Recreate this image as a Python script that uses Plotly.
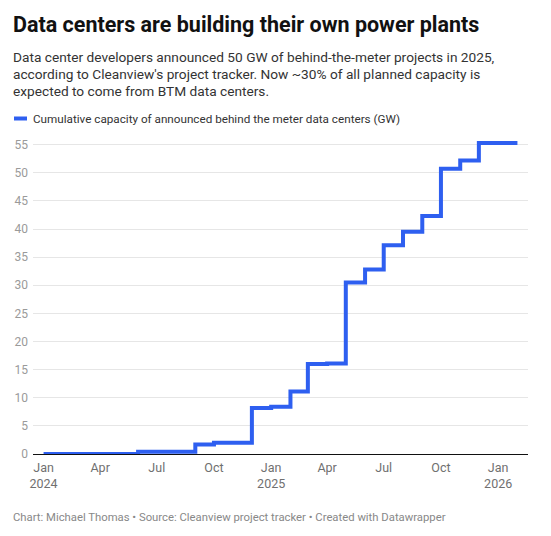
import plotly.graph_objects as go

# monthly cumulative capacity of announced BTM data centers (GW), step-after
months = [
    '2024-01-01', '2024-02-01', '2024-03-01', '2024-04-01', '2024-05-01', '2024-06-01',
    '2024-07-01', '2024-08-01', '2024-09-01', '2024-10-01', '2024-11-01', '2024-12-01',
    '2025-01-01', '2025-02-01', '2025-03-01', '2025-04-01', '2025-05-01', '2025-06-01',
    '2025-07-01', '2025-08-01', '2025-09-01', '2025-10-01', '2025-11-01', '2025-12-01',
    '2026-01-01', '2026-02-01',
]
capacity_gw = [
    0, 0, 0, 0, 0, 0.4,
    0.4, 0.4, 1.7, 2.0, 2.0, 8.2,
    8.4, 11.1, 16.0, 16.1, 30.5, 32.8,
    37.1, 39.5, 42.3, 50.7, 52.2, 55.3,
    55.3, 55.3,
]

x_tick_vals = ['2024-01-01', '2024-04-01', '2024-07-01', '2024-10-01', '2025-01-01',
               '2025-04-01', '2025-07-01', '2025-10-01', '2026-01-01']
x_tick_text = ['Jan<br>2024', 'Apr', 'Jul', 'Oct', 'Jan<br>2025', 'Apr', 'Jul', 'Oct', 'Jan<br>2026']
y_tick_vals = [0, 5, 10, 15, 20, 25, 30, 35, 40, 45, 50, 55]

title = 'Data centers are building their own power plants'
subtitle = [
    'Data center developers announced 50 GW of behind-the-meter projects in 2025,',
    "according to Cleanview's project tracker. Now ~30% of all planned capacity is",
    'expected to come from BTM data centers.',
]
series_name = 'Cumulative capacity of announced behind the meter data centers (GW)'
footer = 'Chart: Michael Thomas \u2022 Source: Cleanview project tracker \u2022 Created with Datawrapper'

BLUE = '#2e5ff0'
# the page body adds an 8px margin, so the figure is shrunk and shifted back by that
OFF = 8
W, H = 551 - OFF, 536 - OFF
ML, MR, MT, MB = 33 - OFF, 23, 139 - OFF, 82
PW, PH = W - ML - MR, H - MT - MB


def px_x(p):
    # p is a pixel position in the reference picture
    return (p - OFF - ML) / PW


def px_y(p):
    return (H - MB - (p - OFF)) / PH


fig = go.Figure()
fig.add_trace(go.Scatter(
    x=months, y=capacity_gw, mode='lines', name=series_name,
    line=dict(shape='hv', width=4, color=BLUE),
    showlegend=False, hoverinfo='x+y',
))

notes = [
    dict(text='<b>' + title + '</b>', x=px_x(11), y=px_y(24.5),
         font=dict(size=21.5, color='#111111')),
    dict(text=subtitle[0], x=px_x(11), y=px_y(56.5), font=dict(size=13.7, color='#333333')),
    dict(text=subtitle[1], x=px_x(11), y=px_y(73.5), font=dict(size=13.7, color='#333333')),
    dict(text=subtitle[2], x=px_x(11), y=px_y(90.5), font=dict(size=13.7, color='#333333')),
    dict(text=series_name, x=px_x(31), y=px_y(118.5), font=dict(size=11.7, color='#333333')),
    dict(text=footer, x=px_x(11), y=px_y(517), font=dict(size=11.3, color='#888888')),
]
for n in notes:
    fig.add_annotation(xref='paper', yref='paper', xanchor='left', yanchor='middle',
                       showarrow=False, **n)

# legend swatch
fig.add_shape(type='line', xref='paper', yref='paper',
              x0=px_x(14), x1=px_x(27), y0=px_y(118.5), y1=px_y(118.5),
              line=dict(color=BLUE, width=4))

fig.update_layout(
    width=W, height=H,
    margin=dict(l=ML, r=MR, t=MT, b=MB, autoexpand=False),
    paper_bgcolor='white', plot_bgcolor='white',
    font=dict(family='Roboto, sans-serif', color='#333333'),
    xaxis=dict(
        type='date', range=['2023-12-15', '2026-02-18'],
        tickvals=x_tick_vals, ticktext=x_tick_text,
        showgrid=False, zeroline=False, showline=False, ticks='',
        tickfont=dict(size=12.5, color='#707070'), automargin=False,
        ticklabelstandoff=4,
    ),
    yaxis=dict(
        range=[0, 56], tickvals=y_tick_vals,
        showgrid=True, gridcolor='#e6e6e6', gridwidth=1,
        zeroline=True, zerolinecolor='#111111', zerolinewidth=1,
        showline=False, ticks='', automargin=False,
        tickfont=dict(size=12, color='#9a9a9a'), ticklabelstandoff=4,
    ),
)

fig.write_html('out.html')
